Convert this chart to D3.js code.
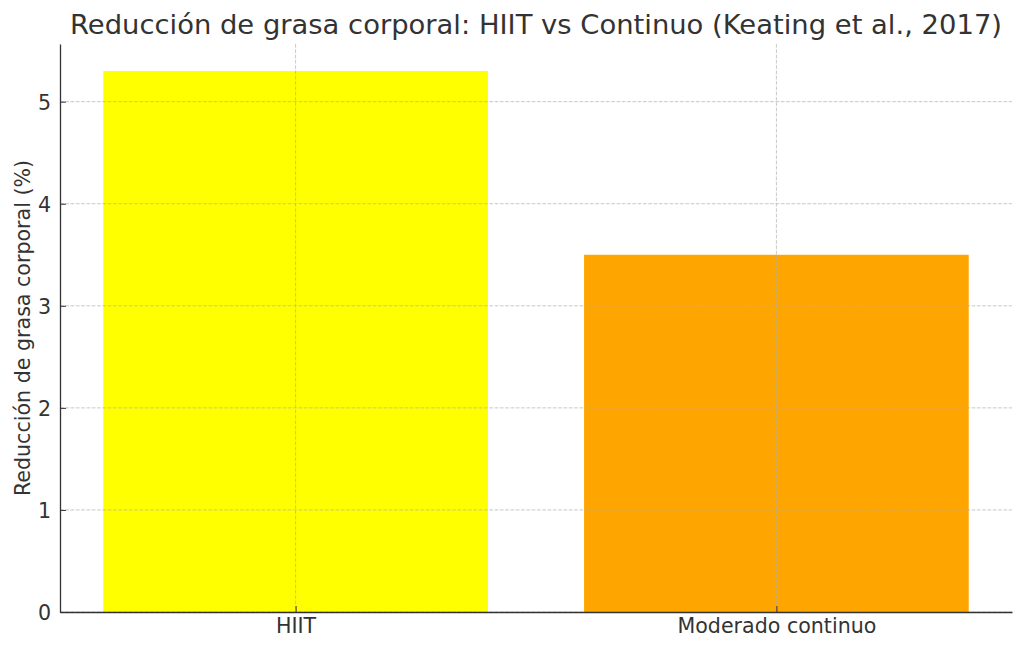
<!DOCTYPE html>
<html>
<head>
<meta charset="utf-8">
<script src="https://cdn.jsdelivr.net/npm/d3@7"></script>
<style>
  body { margin: 0; background: #fff; }
  text { font-family: "DejaVu Sans", sans-serif; fill: #333; }
</style>
</head>
<body>
<div id="chart"></div>
<script>
// data
var categories = ["HIIT", "Moderado continuo"];
var reductions = [5.3, 3.5];
var barColors = ["#ffff00", "#ffa500"];
var yTicks = [0, 1, 2, 3, 4, 5];

var svgWidth = 1024, svgHeight = 651;
var margin = { top: 44, right: 12, bottom: 39, left: 60 };
var width = svgWidth - margin.left - margin.right;
var height = svgHeight - margin.top - margin.bottom;

var svg = d3.select("#chart").append("svg")
  .attr("width", svgWidth)
  .attr("height", svgHeight);

var g = svg.append("g")
  .attr("transform", `translate(${margin.left}, ${margin.top})`);

// matplotlib-like positions: centers at 0 and 1, xlim -0.49..1.49
var xScale = d3.scaleLinear().domain([-0.49, 1.49]).range([0, width]);
var yScale = d3.scaleLinear().domain([0, d3.max(reductions) * 1.05]).range([height, 0]);
var barW = xScale(0.8) - xScale(0);

// bars
g.selectAll(".bar")
  .data(reductions)
  .enter()
  .append("rect")
  .attr("x", (d, i) => xScale(i) - barW / 2)
  .attr("y", d => yScale(d))
  .attr("width", barW)
  .attr("height", d => yScale(0) - yScale(d))
  .attr("fill", (d, i) => barColors[i]);

// grid on top of the bars
var grid = g.append("g").attr("class", "grid");
grid.selectAll(".hgrid")
  .data(yTicks)
  .enter()
  .append("line")
  .attr("x1", 0).attr("x2", width)
  .attr("y1", d => yScale(d)).attr("y2", d => yScale(d))
  .attr("stroke", "#b0b0b0").attr("stroke-opacity", 0.7)
  .attr("stroke-dasharray", "3.7,1.6").attr("stroke-width", 1);
grid.selectAll(".vgrid")
  .data(categories)
  .enter()
  .append("line")
  .attr("x1", (d, i) => xScale(i)).attr("x2", (d, i) => xScale(i))
  .attr("y1", 0).attr("y2", height)
  .attr("stroke", "#b0b0b0").attr("stroke-opacity", 0.7)
  .attr("stroke-dasharray", "3.7,1.6").attr("stroke-width", 1);

// axes, ticks pointing inward
var leftAxis = d3.axisLeft(yScale).tickValues(yTicks).tickFormat(d3.format("d"))
  .tickSizeInner(-6).tickSizeOuter(0).tickPadding(9);
var bottomAxis = d3.axisBottom(xScale).tickValues([0, 1]).tickFormat(i => categories[i])
  .tickSizeInner(-6).tickSizeOuter(0).tickPadding(6);

var yAxis = g.append("g").call(leftAxis);
var xAxis = g.append("g").attr("transform", `translate(0, ${height})`).call(bottomAxis);

[xAxis, yAxis].forEach(function(ax) {
  ax.select(".domain").attr("stroke", "#333").attr("stroke-width", 1.3);
  ax.selectAll(".tick line").attr("stroke", "#333").attr("stroke-width", 1);
  ax.selectAll(".tick text").style("font-size", "20.6px").attr("fill", "#333");
});
yAxis.selectAll(".tick text").attr("dy", "0.36em");
xAxis.selectAll(".tick text").attr("dy", "0.71em");

// y label
g.append("text")
  .attr("transform", "rotate(-90)")
  .attr("x", -height / 2)
  .attr("y", 30 - margin.left)
  .attr("text-anchor", "middle")
  .style("font-size", "20.6px")
  .text("Reducción de grasa corporal (%)");

// title
svg.append("text")
  .attr("x", (71 + 1001) / 2)
  .attr("y", 34)
  .attr("text-anchor", "middle")
  .style("font-size", "27.4px")
  .text("Reducción de grasa corporal: HIIT vs Continuo (Keating et al., 2017)");
</script>
</body>
</html>
